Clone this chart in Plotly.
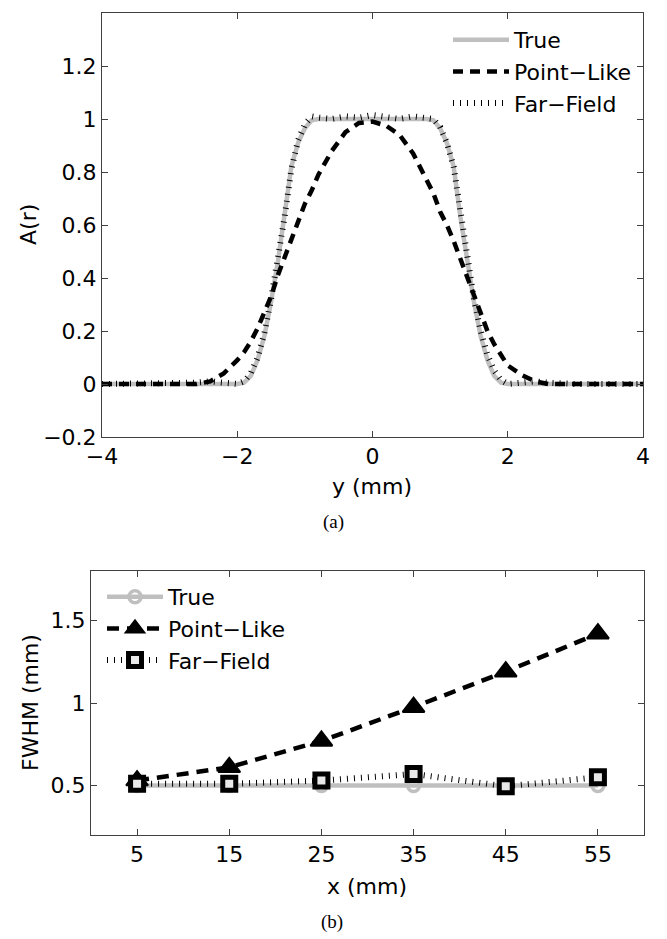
import plotly.graph_objects as go

# ---------------- data: panel (a) ----------------
y_mm = [-4.0, -3.5, -3.0, -2.8, -2.6, -2.4, -2.2, -2.0, -1.9, -1.8, -1.7, -1.6, -1.5, -1.4,
        -1.3, -1.2, -1.1, -1.0, -0.9, -0.8, -0.6, -0.4, -0.2, 0.0, 0.2, 0.4, 0.6, 0.8, 0.9,
        1.0, 1.1, 1.2, 1.3, 1.4, 1.5, 1.6, 1.7, 1.8, 1.9, 2.0, 2.2, 2.4, 2.6, 2.8, 3.0, 3.5, 4.0]

a_true = [0, 0, 0, 0, 0, 0, 0, 0, 0.005, 0.03, 0.09, 0.18, 0.31, 0.46,
          0.64, 0.82, 0.91, 0.965, 0.995, 1.0, 1.0, 1.0, 1.0, 1.0, 1.0, 1.0, 1.0, 1.0, 0.995,
          0.965, 0.91, 0.82, 0.63, 0.46, 0.31, 0.18, 0.09, 0.03, 0.005, 0, 0, 0, 0, 0, 0, 0, 0]

a_point = [0, 0, 0, 0, 0.0, 0.01, 0.04, 0.09, 0.12, 0.16, 0.21, 0.27, 0.33, 0.41,
           0.48, 0.55, 0.62, 0.68, 0.73, 0.79, 0.88, 0.95, 0.985, 0.99, 0.975, 0.94, 0.87, 0.77, 0.72,
           0.65, 0.60, 0.54, 0.47, 0.41, 0.34, 0.27, 0.20, 0.15, 0.11, 0.07, 0.035, 0.01, 0, 0, 0, 0, 0]

a_far = [0, 0, 0, 0, 0.005, 0.01, 0.005, 0.0, 0.01, 0.04, 0.10, 0.19, 0.32, 0.46,
         0.63, 0.81, 0.92, 0.98, 1.01, 1.005, 1.0, 1.01, 1.005, 1.015, 1.005, 1.0, 1.01, 1.005, 1.0,
         0.97, 0.91, 0.82, 0.64, 0.47, 0.32, 0.20, 0.11, 0.05, 0.015, 0.0, 0.005, 0.01, 0.005, 0, 0, 0, 0]

# ---------------- data: panel (b) ----------------
x_mm = [5, 15, 25, 35, 45, 55]
fwhm_true = [0.50, 0.50, 0.50, 0.50, 0.50, 0.50]
fwhm_point = [0.53, 0.61, 0.77, 0.975, 1.19, 1.42]
fwhm_far = [0.51, 0.51, 0.53, 0.57, 0.495, 0.55]

a_yticks = [-0.2, 0, 0.2, 0.4, 0.6, 0.8, 1, 1.2]
a_xticks = [-4, -2, 0, 2, 4]
b_xticks = [5, 15, 25, 35, 45, 55]
b_yticks = [0.5, 1, 1.5]

GRAY = "#bfbfbf"
AX = "#404040"
FONT = "DejaVu Sans"
FS = 22
W, H = 667, 939

fig = go.Figure()

# panel (a)
fig.add_trace(go.Scatter(x=y_mm, y=a_true, mode="lines", name="True",
                         line=dict(color=GRAY, width=4.5), xaxis="x", yaxis="y", legend="legend"))
fig.add_trace(go.Scatter(x=y_mm, y=a_point, mode="lines", name="Point\u2212Like",
                         line=dict(color="black", width=4.5, dash="10px,7px"),
                         xaxis="x", yaxis="y", legend="legend"))
fig.add_trace(go.Scatter(x=y_mm, y=a_far, mode="lines", name="Far\u2212Field",
                         line=dict(color="black", width=6, dash="1px,6px"),
                         xaxis="x", yaxis="y", legend="legend"))

# panel (b)
fig.add_trace(go.Scatter(x=x_mm, y=fwhm_true, mode="lines+markers", name="True",
                         line=dict(color=GRAY, width=4.5),
                         marker=dict(symbol="circle-open", size=12, color=GRAY, line=dict(width=3.5, color=GRAY)),
                         xaxis="x2", yaxis="y2", legend="legend2"))
fig.add_trace(go.Scatter(x=x_mm, y=fwhm_point, mode="lines+markers", name="Point\u2212Like",
                         line=dict(color="black", width=4.5, dash="12px,8px"),
                         marker=dict(symbol="triangle-up", size=19, color="black", line=dict(width=2, color="black")),
                         xaxis="x2", yaxis="y2", legend="legend2"))
fig.add_trace(go.Scatter(x=x_mm, y=fwhm_far, mode="lines+markers", name="Far\u2212Field",
                         line=dict(color="black", width=6, dash="1px,6px"),
                         marker=dict(symbol="square", size=13, color="#e8e8e8", line=dict(width=5, color="black")),
                         xaxis="x2", yaxis="y2", legend="legend2"))

axis_common = dict(showline=True, linecolor=AX, linewidth=1, mirror="ticks", ticks="inside",
                   ticklen=6, tickcolor=AX, showgrid=False, zeroline=False, automargin=False,
                   tickfont=dict(family=FONT, size=FS, color="black"))


def label(text, x, y, angle=0, family=FONT, size=FS):
    return dict(text=text, x=x / W, y=(H - y) / H, xref="paper", yref="paper", showarrow=False,
                xanchor="center", yanchor="middle", textangle=angle, font=dict(family=family, size=size))


fig.update_layout(
    width=W, height=H,
    margin=dict(l=0, r=0, t=0, b=0, autoexpand=False),
    paper_bgcolor="white", plot_bgcolor="white",
    font=dict(family=FONT, size=FS, color="black"),
    xaxis=dict(domain=[102 / W, 643 / W], range=[-4, 4], tickvals=a_xticks, anchor="y", **axis_common),
    yaxis=dict(domain=[(H - 437) / H, (H - 13) / H], range=[-0.2, 1.4], tickvals=a_yticks, anchor="x", **axis_common),
    xaxis2=dict(domain=[91 / W, 644 / W], range=[0, 60], tickvals=b_xticks, anchor="y2", **axis_common),
    yaxis2=dict(domain=[(H - 835) / H, (H - 571) / H], range=[0.2, 1.8], tickvals=b_yticks, anchor="x2", **axis_common),
    legend=dict(x=448 / W, y=(H - 19) / H, xanchor="left", yanchor="top", bgcolor="rgba(0,0,0,0)",
                font=dict(family=FONT, size=FS), itemwidth=56, tracegroupgap=0),
    legend2=dict(x=102 / W, y=(H - 576) / H, xanchor="left", yanchor="top", bgcolor="rgba(0,0,0,0)",
                 font=dict(family=FONT, size=FS), itemwidth=56, tracegroupgap=0),
    showlegend=True,
    annotations=[
        label("A(r)", 28, 225, angle=-90),
        label("y (mm)", 372, 486),
        label("(a)", 333, 522, family="Liberation Serif", size=19),
        label("FWHM (mm)", 30, 703, angle=-90),
        label("x (mm)", 367, 886),
        label("(b)", 332, 922, family="Liberation Serif", size=19),
    ],
)

fig.write_html("out.html", config={"displayModeBar": False},
               post_script="document.body.style.margin='0';document.body.style.overflow='hidden';")
